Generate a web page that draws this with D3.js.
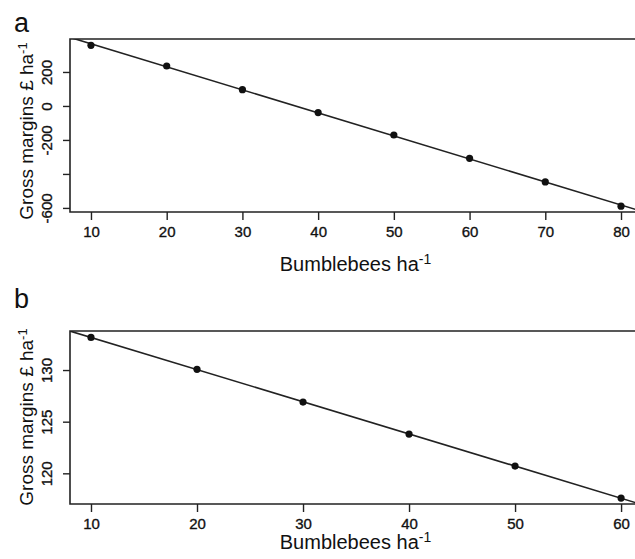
<!DOCTYPE html>
<html lang="en">
<head>
  <script src="https://d3js.org/d3.v7.min.js"></script>
  <style>
    body { margin: 0; background: white; }
    svg text { font-family: "Liberation Sans", Arial, sans-serif; fill: #111; }
    .tick text { font-size: 15px; stroke: #111; stroke-width: 0.35px; }
  </style>
</head>
<body>
  <script>
    // panel a
    var beesA = [10, 20, 30, 40, 50, 60, 70, 80];
    var marginA = [357, 235, 96, -39, -171, -308, -447, -590];
    var xTicksA = [10, 20, 30, 40, 50, 60, 70, 80];
    var yTicksA = [-600, -400, -200, 0, 200];
    var yLabelsA = ["-600", "", "-200", "0", "200"];

    // panel b
    var beesB = [10, 20, 30, 40, 50, 60];
    var marginB = [133.16, 130.07, 126.9, 123.8, 120.7, 117.6];
    var xTicksB = [10, 20, 30, 40, 50, 60];
    var yTicksB = [120, 125, 130];
    var yLabelsB = ["120", "125", "130"];

    var W = 635, H = 559;
    var svg = d3.select("body").append("svg").attr("width", W).attr("height", H);

    function fit(xs, ys) {
      var mx = d3.mean(xs), my = d3.mean(ys);
      var sxy = d3.sum(xs, function(x, i) { return (x - mx) * (ys[i] - my); });
      var sxx = d3.sum(xs, function(x) { return (x - mx) * (x - mx); });
      var b = sxy / sxx;
      return { a: my - b * mx, b: b };
    }

    function panel(opt) {
      var left = 70, right = 641;
      var x = d3.scaleLinear().domain(opt.xdom).range([left, right]);
      var y = d3.scaleLinear().domain(opt.ydom).range([opt.bottom, opt.top]);
      var g = svg.append("g");

      g.append("clipPath").attr("id", "clip" + opt.letter)
        .append("rect").attr("x", left).attr("y", opt.top)
        .attr("width", right - left).attr("height", opt.bottom - opt.top);

      // fitted line through the points
      var f = fit(opt.xs, opt.ys);
      var d0 = opt.xdom[0], d1 = opt.xdom[1];
      g.append("line")
        .attr("clip-path", "url(#clip" + opt.letter + ")")
        .attr("x1", x(d0)).attr("y1", y(f.a + f.b * d0))
        .attr("x2", x(d1)).attr("y2", y(f.a + f.b * d1))
        .attr("stroke", "#222").attr("stroke-width", 1.6);

      g.selectAll("circle.pt").data(opt.xs).enter().append("circle")
        .attr("cx", function(d) { return x(d); })
        .attr("cy", function(d, i) { return y(opt.ys[i]); })
        .attr("r", 3.6).attr("fill", "#111");

      var xAxis = d3.axisBottom(x).tickValues(opt.xticks).tickSize(8).tickPadding(6);
      var gx = g.append("g").attr("transform", "translate(0," + opt.bottom + ")").call(xAxis);
      gx.select(".domain").remove();
      gx.selectAll(".tick line").attr("stroke", "#222").attr("stroke-width", 1.4);
      gx.selectAll(".tick text").attr("fill", "#111");

      var yAxis = d3.axisLeft(y).tickValues(opt.yticks).tickSize(7)
        .tickFormat(function(d, i) { return opt.ylabels[i]; });
      var gy = g.append("g").attr("transform", "translate(" + left + ",0)").call(yAxis);
      gy.select(".domain").remove();
      gy.selectAll(".tick line").attr("stroke", "#222").attr("stroke-width", 1.4);
      gy.selectAll(".tick text")
        .attr("x", null).attr("dy", null)
        .attr("text-anchor", "middle")
        .attr("transform", "translate(-18,0) rotate(-90)")
        .attr("fill", "#111");

      // box: top, left and bottom sides (right side lies past the edge)
      var bl = d3.path();
      bl.moveTo(right, opt.top); bl.lineTo(left, opt.top);
      bl.lineTo(left, opt.bottom); bl.lineTo(right, opt.bottom);
      g.append("path").attr("d", bl.toString())
        .attr("fill", "none").attr("stroke", "#222").attr("stroke-width", 1.6);

      g.append("text").attr("x", 14).attr("y", opt.letterY)
        .style("font-size", "27px").text(opt.letter);

      var xt = g.append("text").attr("x", (left + right) / 2).attr("y", opt.titleY)
        .attr("text-anchor", "middle").style("font-size", "20px");
      xt.append("tspan").text("Bumblebees ha");
      xt.append("tspan").attr("dy", "-0.5em").style("font-size", "14px").text("-1");

      var yt = g.append("text")
        .attr("transform", "translate(33," + opt.ytitleMid + ") rotate(-90)")
        .attr("text-anchor", "middle").style("font-size", "19px");
      yt.append("tspan").text("Gross margins \u00a3 ha");
      yt.append("tspan").attr("dy", "-0.5em").style("font-size", "13px").text("-1");
    }

    panel({ letter: "a", letterY: 32, titleY: 271, ytitleMid: 131, top: 39, bottom: 212,
            xdom: [7.23, 82.64], ydom: [-624, 394],
            xs: beesA, ys: marginA, xticks: xTicksA, yticks: yTicksA, ylabels: yLabelsA });
    panel({ letter: "b", letterY: 308, titleY: 549, ytitleMid: 417, top: 331, bottom: 504,
            xdom: [8.02, 61.88], ydom: [117.03, 133.78],
            xs: beesB, ys: marginB, xticks: xTicksB, yticks: yTicksB, ylabels: yLabelsB });
  </script>
</body>
</html>
